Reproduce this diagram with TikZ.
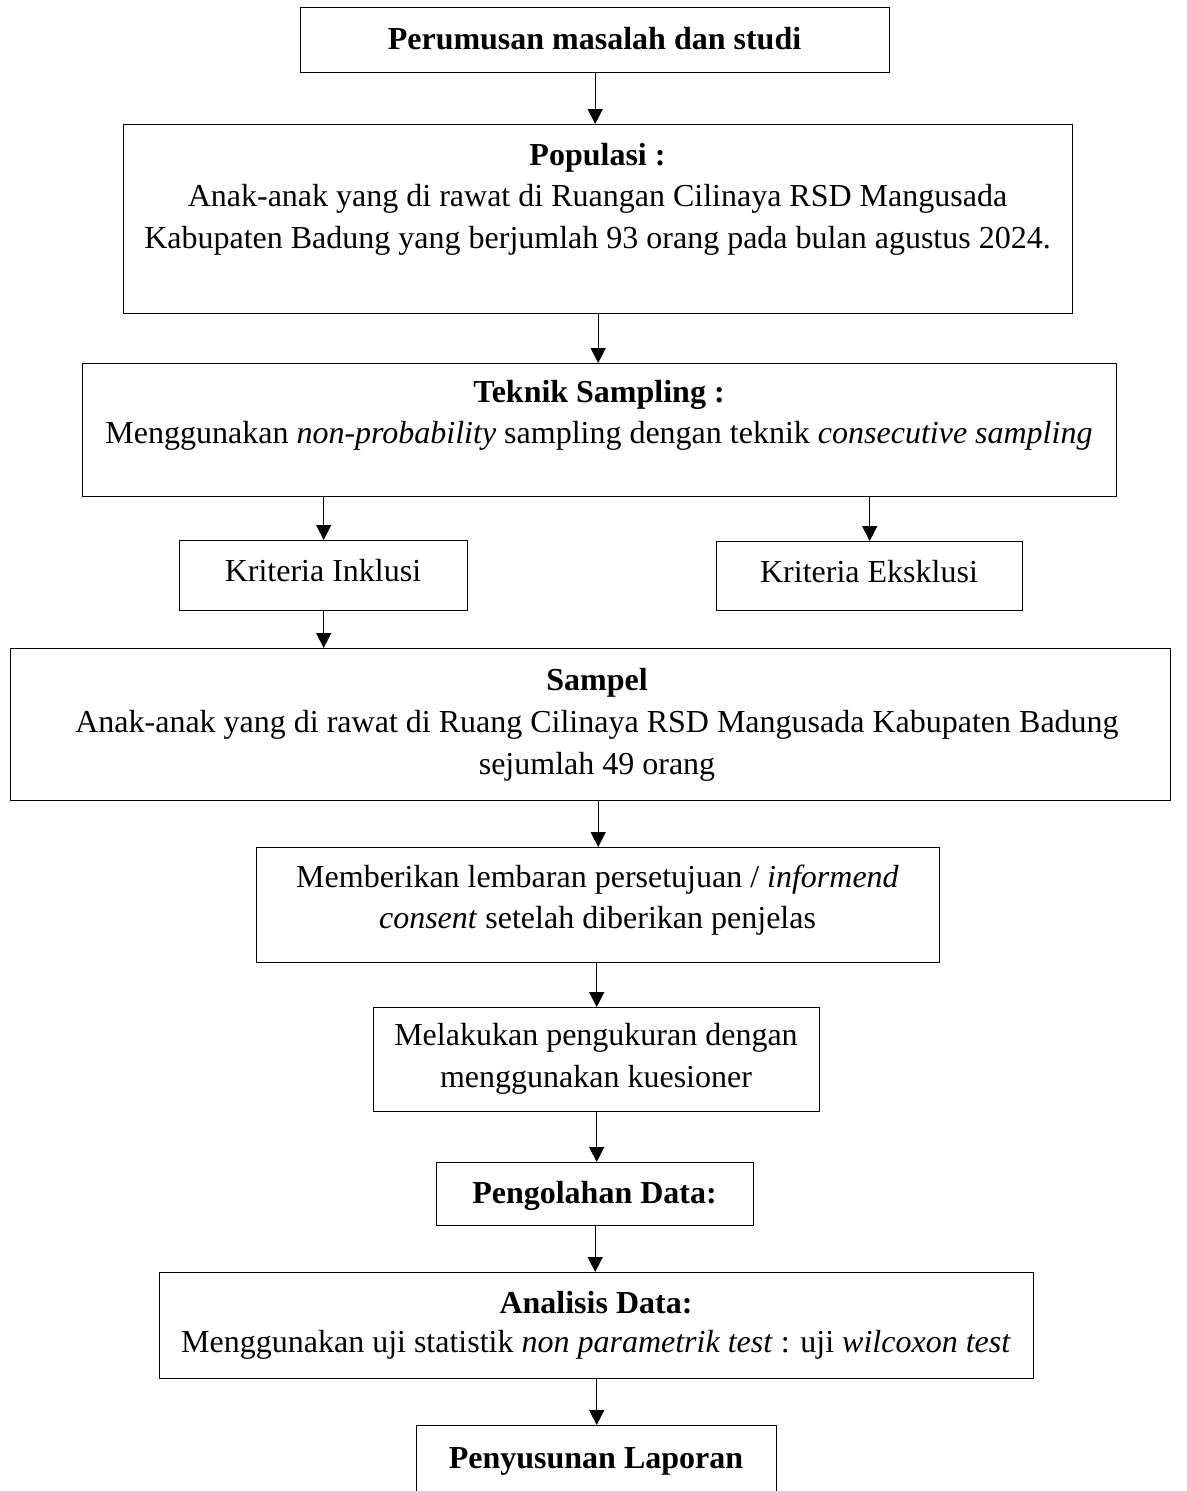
\documentclass[tikz,border=0pt]{standalone}
\usepackage{fontspec}
\setmainfont{Liberation Serif}
\usetikzlibrary{arrows.meta}
\begin{document}
\begin{tikzpicture}[x=1pt,y=-1pt,
  box/.style={draw, line width=1.4pt, inner sep=0pt, anchor=north west},
  txt/.style={inner sep=0pt, anchor=base, font=\fontsize{32}{38}\selectfont},
  btxt/.style={inner sep=0pt, anchor=base, font=\fontsize{32}{38}\selectfont\bfseries},
  arr/.style={line width=1.4pt, -{Triangle[width=15pt,length=15pt]}}]
\useasboundingbox (0,0) rectangle (1186,1491);
% boxes
\node[box, minimum width=589pt, minimum height=65pt]  (top) at (300,7) {};
\node[box, minimum width=949pt, minimum height=189pt] (pop) at (123,124) {};
\node[box, minimum width=1034pt, minimum height=133pt] (tek) at (82,363) {};
\node[box, minimum width=288pt, minimum height=70pt]  (ink) at (179,540) {};
\node[box, minimum width=306pt, minimum height=69pt]  (eks) at (716,541) {};
\node[box, minimum width=1160pt, minimum height=152pt] (sam) at (10,648) {};
\node[box, minimum width=683pt, minimum height=115pt] (mem) at (256,847) {};
\node[box, minimum width=446pt, minimum height=104pt] (mel) at (373,1007) {};
\node[box, minimum width=317pt, minimum height=63pt]  (pen) at (436,1162) {};
\node[box, minimum width=874pt, minimum height=106pt] (ana) at (159,1272) {};
\node[box, minimum width=360pt, minimum height=100pt] (lap) at (416,1425) {};
% texts
\node[btxt] (topt) at (594.5,49) {Perumusan masalah dan studi};
\node[btxt] (pop1) at (597.5,165) {Populasi :};
\node[txt]  (pop2) at (597.5,206) {Anak-anak yang di rawat di Ruangan Cilinaya RSD Mangusada};
\node[txt]  (pop3) at (597.5,248) {Kabupaten Badung yang berjumlah 93 orang pada bulan agustus 2024.};
\node[btxt] (tek1) at (599,402) {Teknik Sampling :};
\node[txt]  (tek2) at (599,443) {Menggunakan \textit{non-probability} sampling dengan teknik \textit{consecutive sampling}};
\node[txt]  (inkt) at (323,581) {Kriteria Inklusi};
\node[txt]  (ekst) at (869,582) {Kriteria Eksklusi};
\node[btxt] (sam1) at (597,690) {Sampel};
\node[txt]  (sam2) at (597,732) {Anak-anak yang di rawat di Ruang Cilinaya RSD Mangusada Kabupaten Badung};
\node[txt]  (sam3) at (597,774) {sejumlah 49 orang};
\node[txt]  (mem1) at (597.5,887) {Memberikan lembaran persetujuan / \textit{informend}};
\node[txt]  (mem2) at (597.5,928) {\textit{consent} setelah diberikan penjelas};
\node[txt]  (mel1) at (596,1045) {Melakukan pengukuran dengan};
\node[txt]  (mel2) at (596,1087) {menggunakan kuesioner};
\node[btxt] (pent) at (594.5,1203) {Pengolahan Data:};
\node[btxt] (ana1) at (596,1313) {Analisis Data:};
\node[txt]  (ana2) at (596,1352) {Menggunakan uji statistik \textit{non parametrik test} : uji \textit{wilcoxon test}};
\node[btxt] (lapt) at (596,1468) {Penyusunan Laporan};
% arrows
\draw[arr] (top.south) -- (top.south |- pop.north);
\draw[arr] (pop.south) -- (pop.south |- tek.north);
\draw[arr] (ink.north |- tek.south) -- (ink.north);
\draw[arr] (eks.north |- tek.south) -- (eks.north);
\draw[arr] (ink.south) -- (ink.south |- sam.north);
\draw[arr] (mem.north |- sam.south) -- (mem.north);
\draw[arr] (mel.north |- mem.south) -- (mel.north);
\draw[arr] (mel.south) -- (mel.south |- pen.north);
\draw[arr] (pen.south) -- (pen.south |- ana.north);
\draw[arr] (lap.north |- ana.south) -- (lap.north);
\end{tikzpicture}
\end{document}
